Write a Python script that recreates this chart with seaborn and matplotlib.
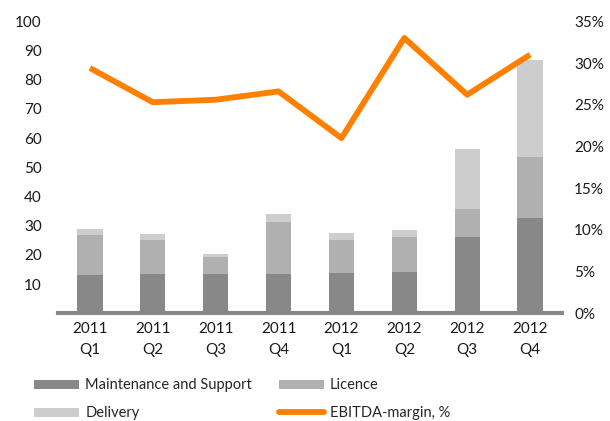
import numpy as np
import pandas as pd
import matplotlib
matplotlib.use("Agg")
import matplotlib.pyplot as plt
import matplotlib.ticker as mticker
from matplotlib.patches import Patch
from matplotlib.lines import Line2D
import seaborn as sns

# Quarterly revenue split (MEUR) and EBITDA margin
quarters = ["2011\nQ1", "2011\nQ2", "2011\nQ3", "2011\nQ4",
            "2012\nQ1", "2012\nQ2", "2012\nQ3", "2012\nQ4"]
maintenance = [13.1, 13.5, 13.5, 13.4, 13.7, 14.0, 26.2, 32.7]
licence = [13.7, 11.6, 5.7, 18.0, 11.4, 12.2, 9.5, 20.7]
delivery = [2.0, 1.9, 1.1, 2.7, 2.5, 2.3, 20.5, 33.3]
ebitda_margin = [0.294, 0.253, 0.256, 0.266, 0.210, 0.330, 0.262, 0.310]

left_ticks = [10, 20, 30, 40, 50, 60, 70, 80, 90, 100]
right_ticks = [0, 0.05, 0.10, 0.15, 0.20, 0.25, 0.30, 0.35]

c_maint = "#888888"
c_lic = "#b0b0b0"
c_del = "#cdcdcd"
c_line = "#ff8000"
c_axis = "#878787"

sns.set_theme(style="white")
plt.rcParams["font.family"] = ["Lato", "DejaVu Sans"]
plt.rcParams["font.size"] = 10.5

df = pd.DataFrame({
    "quarter": quarters,
    "maint": maintenance,
    "lic": licence,
    "deliv": delivery,
    "margin": ebitda_margin,
})
df["top_lic"] = df["maint"] + df["lic"]
df["top_del"] = df["top_lic"] + df["deliv"]

fig = plt.figure(figsize=(6.10, 4.21), dpi=100)
ax = fig.add_axes([0.0959, 0.2558, 0.8246, 0.6936])

# Stacked bars drawn as overlapping cumulative totals
for col, color in [("top_del", c_del), ("top_lic", c_lic), ("maint", c_maint)]:
    sns.barplot(data=df, x="quarter", y=col, color=color, width=0.4,
                saturation=1, ax=ax, order=quarters, edgecolor="none")

ax.set_ylim(0, 100)
ax.set_xlim(-0.5, len(quarters) - 0.5)
ax.set_yticks(left_ticks)
ax.set_xlabel("")
ax.set_ylabel("")
for s in ["top", "left", "right"]:
    ax.spines[s].set_visible(False)
ax.spines["bottom"].set_color(c_axis)
ax.spines["bottom"].set_linewidth(3)
ax.tick_params(axis="y", length=0, pad=12, labelsize=11, labelcolor="#1a1a1a")
ax.tick_params(axis="x", which="major", length=0, pad=6, labelsize=11,
               labelcolor="#1a1a1a")
ax.set_xticks(np.arange(-0.5, len(quarters)), minor=True)
ax.tick_params(axis="x", which="minor", length=4, width=2, color=c_axis)
for lbl in ax.get_xticklabels():
    lbl.set_linespacing(1.7)

ax2 = ax.twinx()
sns.lineplot(x=np.arange(len(quarters)), y=ebitda_margin, color=c_line,
             linewidth=4.2, ax=ax2, solid_capstyle="butt")
ax2.set_ylim(0, 0.35)
ax2.set_yticks(right_ticks)
ax2.yaxis.set_major_formatter(mticker.FuncFormatter(lambda v, p: f"{v*100:.0f}%"))
ax2.tick_params(axis="y", length=0, pad=9, labelsize=11, labelcolor="#1a1a1a")
for s in ["top", "left", "right", "bottom"]:
    ax2.spines[s].set_visible(False)
ax2.set_ylabel("")

handles = [
    Patch(facecolor=c_maint, edgecolor="none"),
    Patch(facecolor=c_del, edgecolor="none"),
    Patch(facecolor=c_lic, edgecolor="none"),
    Line2D([0], [0], color=c_line, linewidth=4.2),
]
labels = ["Maintenance and Support", "Delivery", "Licence", "EBITDA-margin, %"]
fig.legend(handles, labels, ncol=2, loc="upper left",
           bbox_to_anchor=(0.056, 0.101), frameon=False, fontsize=10.5,
           handlelength=3.1, handleheight=0.6, handletextpad=0.4,
           columnspacing=1.85, labelspacing=0.95, borderpad=0, borderaxespad=0)

fig.savefig("out.png", dpi=100)
